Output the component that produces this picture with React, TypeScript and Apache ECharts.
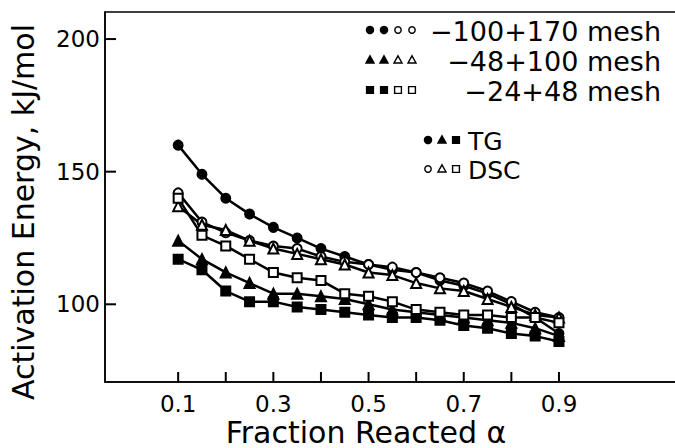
import React, { useEffect, useRef } from "react";
import * as echarts from "echarts";

const alpha = [0.1, 0.15, 0.2, 0.25, 0.3, 0.35, 0.4, 0.45, 0.5, 0.55, 0.6, 0.65, 0.7, 0.75, 0.8, 0.85, 0.9];
const tg170 = [160, 149, 140, 134, 129, 125, 121, 118, 115, 113, 112, 109, 107, 104, 100, 95, 89];
const dsc170 = [142, 131, 127, 124, 122, 121, 118, 116, 115, 114, 112, 110, 108, 105, 101, 97, 95];
const tg100 = [124, 117, 112, 108, 104, 104, 103, 102, 100, 98, 97, 96, 95, 94, 93, 91, 88];
const dsc100 = [137, 130, 128, 124, 121, 119, 117, 115, 112, 111, 108, 106, 105, 102, 99, 96, 95];
const tg48 = [117, 113, 105, 101, 101, 99, 98, 97, 96, 95, 95, 94, 92, 91, 89, 88, 86];
const dsc48 = [140, 126, 122, 117, 112, 110, 109, 104, 103, 101, 98, 97, 96, 96, 95, 95, 93];

const xTicks = [0.1, 0.2, 0.3, 0.4, 0.5, 0.6, 0.7, 0.8, 0.9];
const xLabels = [0.1, 0.3, 0.5, 0.7, 0.9];
const yTicks = [100, 150, 200];

const legendRows = ["\u2212100+170 mesh", "\u221248+100 mesh", "\u221224+48 mesh"];
const methodRows = ["TG", "DSC"];

const FONT = "DejaVu Sans";
const X_MIN = -0.0537;
const X_MAX = 1.2068;
const Y_MIN = 70.7;
const Y_MAX = 210.2;

export default function App() {
  const ref = useRef<HTMLDivElement>(null);
  useEffect(() => {
    if (!ref.current) return;
    const chart = echarts.init(ref.current, undefined, { renderer: "svg" });
    const mk = (name: string, data: number[], symbol: string, filled: boolean) => ({
      name,
      type: "line",
      data: alpha.map((a, i) => [a, data[i]]),
      symbol,
      symbolSize: symbol === "triangle" ? 10 : 9,
      showSymbol: true,
      lineStyle: { color: "#000", width: 2.5 },
      itemStyle: { color: filled ? "#000" : "#fff", borderColor: "#000", borderWidth: 2 },
      z: filled ? 3 : 4,
    });
    const sym = (shape: string, x: number, y: number, filled: boolean) => {
      const st = { fill: filled ? "#000" : "#fff", stroke: "#000", lineWidth: 1.4 };
      if (shape === "circle") return { type: "circle", shape: { cx: x, cy: y, r: filled ? 3.6 : 3.2 }, style: st };
      if (shape === "triangle")
        return { type: "polygon", shape: { points: [[x, y - 4.2], [x + 4, y + 3], [x - 4, y + 3]] }, style: st };
      return { type: "rect", shape: { x: x - 3.4, y: y - 3.4, width: 6.8, height: 6.8 }, style: st };
    };
    const shapes = ["circle", "triangle", "rect"];
    const graphics: any[] = [];
    const rowY = [30, 60, 90];
    shapes.forEach((s, r) => {
      [0, 1, 2, 3].forEach((k) => graphics.push(sym(s, 370 + k * 14, rowY[r], k < 2)));
      graphics.push({
        type: "text",
        x: 661,
        y: rowY[r] + 1,
        style: { text: legendRows[r], font: `27px "${FONT}"`, fill: "#000", align: "right", verticalAlign: "middle" },
      });
    });
    const mY = [140, 169];
    mY.forEach((yy, r) => {
      shapes.forEach((s, k) => graphics.push(sym(s, 428 + k * 14, yy, r === 0)));
      graphics.push({
        type: "text",
        x: 468,
        y: yy + 1,
        style: { text: methodRows[r], font: `25px "${FONT}"`, fill: "#000", align: "left", verticalAlign: "middle" },
      });
    });
    graphics.push({
      type: "text",
      x: 366,
      y: 432,
      style: { text: "Fraction Reacted \u03b1", font: `30px "${FONT}"`, fill: "#000", align: "center", verticalAlign: "middle" },
    });
    graphics.push({
      type: "text",
      x: 23,
      y: 212,
      rotation: Math.PI / 2,
      style: { text: "Activation Energy, kJ/mol", font: `30px "${FONT}"`, fill: "#000", align: "center", verticalAlign: "middle" },
    });

    chart.setOption({
      animation: false,
      grid: {
        left: 105,
        top: 12,
        width: 600,
        height: 370,
        show: true,
        borderColor: "#000",
        borderWidth: 1.5,
        outerBoundsMode: "none",
        containLabel: false,
      },
      xAxis: {
        type: "value",
        min: X_MIN,
        max: X_MAX,
        axisLine: { show: true, onZero: false, lineStyle: { color: "#000", width: 1.5 } },
        axisTick: { show: false },
        axisLabel: { show: true, customValues: xLabels, formatter: (v: number) => v.toFixed(1), color: "#000", fontSize: 23, fontFamily: FONT, margin: 10 },
        splitLine: { show: false },
      },
      yAxis: {
        type: "value",
        min: Y_MIN,
        max: Y_MAX,
        axisLine: { show: true, onZero: false, lineStyle: { color: "#000", width: 1.5 } },
        axisTick: { show: false },
        axisLabel: { show: true, customValues: yTicks, color: "#000", fontSize: 23, fontFamily: FONT, margin: 5 },
        splitLine: { show: false },
      },
      series: [
        {
          type: "custom",
          name: "xticks",
          silent: true,
          clip: false,
          data: xTicks.map((v) => [v, Y_MIN]),
          encode: { x: 0, y: 1 },
          renderItem: (_p: any, api: any) => {
            const p = api.coord([api.value(0), api.value(1)]);
            return { type: "line", shape: { x1: p[0], y1: p[1], x2: p[0], y2: p[1] - 10 }, style: { stroke: "#000", lineWidth: 2 } };
          },
          z: 10,
        },
        {
          type: "custom",
          name: "yticks",
          silent: true,
          clip: false,
          data: yTicks.map((v) => [X_MIN, v]),
          encode: { x: 0, y: 1 },
          renderItem: (_p: any, api: any) => {
            const p = api.coord([api.value(0), api.value(1)]);
            return { type: "line", shape: { x1: p[0], y1: p[1], x2: p[0] + 11, y2: p[1] }, style: { stroke: "#000", lineWidth: 2 } };
          },
          z: 10,
        },
        mk("TG -100+170", tg170, "circle", true),
        mk("DSC -100+170", dsc170, "circle", false),
        mk("TG -48+100", tg100, "triangle", true),
        mk("DSC -48+100", dsc100, "triangle", false),
        mk("TG -24+48", tg48, "rect", true),
        mk("DSC -24+48", dsc48, "rect", false),
      ],
      graphic: graphics,
    });
    return () => chart.dispose();
  }, []);
  return <div ref={ref} style={{ position: "absolute", left: 0, top: 0, width: 675, height: 448, background: "#fff" }} />;
}
